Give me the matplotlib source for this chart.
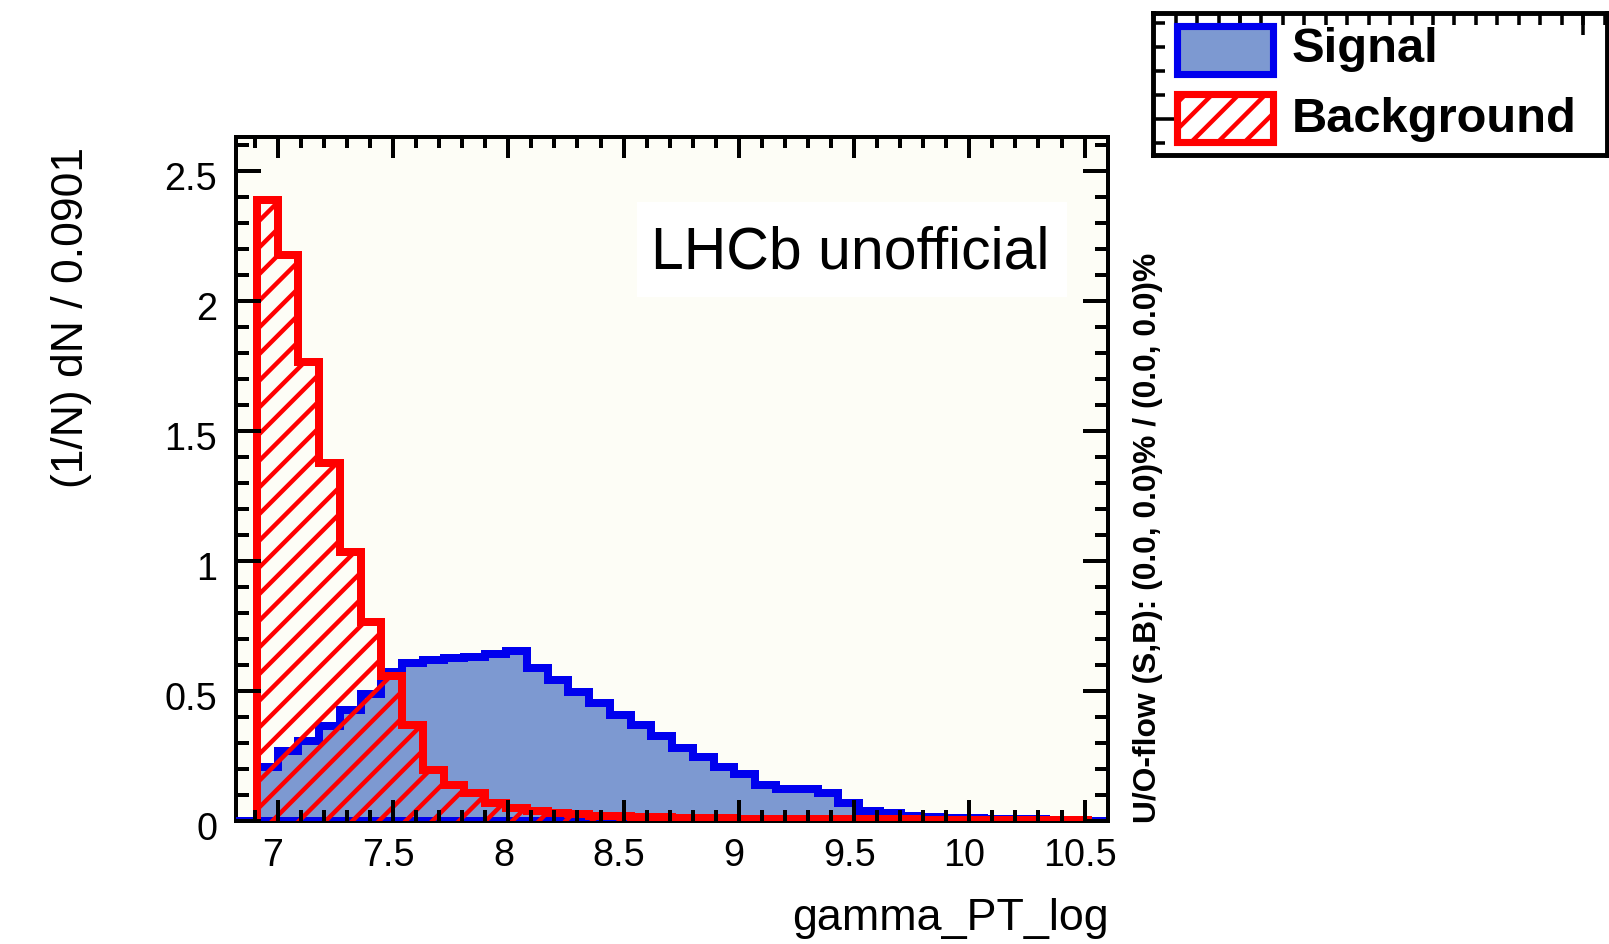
import numpy as np
import matplotlib
matplotlib.use('Agg')
import matplotlib.pyplot as plt
from matplotlib.patches import Rectangle
from matplotlib.ticker import MultipleLocator, FuncFormatter
from matplotlib.transforms import ScaledTranslation

plt.rcParams['font.family'] = ['Liberation Sans', 'DejaVu Sans']
plt.rcParams['hatch.linewidth'] = 2.0

# binning of gamma_PT_log (40 bins of 0.0901)
x_lo = 6.9088
bin_w = 0.0901
n_bins = 40
edges = x_lo + bin_w * np.arange(n_bins + 1)

# normalised contents (1/N) dN / 0.0901
signal = [0.205, 0.268, 0.308, 0.364, 0.426, 0.486, 0.572, 0.605, 0.618, 0.625,
          0.631, 0.641, 0.652, 0.586, 0.541, 0.496, 0.451, 0.406, 0.367, 0.324,
          0.278, 0.244, 0.208, 0.180, 0.137, 0.121, 0.121, 0.105, 0.067, 0.038,
          0.028, 0.018, 0.015, 0.012, 0.009, 0.007, 0.006, 0.005, 0.004, 0.003]
background = [2.387, 2.176, 1.765, 1.375, 1.035, 0.763, 0.558, 0.368, 0.194, 0.137,
              0.105, 0.067, 0.048, 0.036, 0.029, 0.024, 0.020, 0.017, 0.015, 0.013,
              0.011, 0.010, 0.009, 0.008, 0.008, 0.007, 0.007, 0.006, 0.006, 0.005,
              0.005, 0.005, 0.004, 0.004, 0.004, 0.003, 0.003, 0.003, 0.003, 0.002]

sig_fill = '#7d99d1'
sig_line = '#0000ee'
bkg_line = '#ff0000'
frame_col = '#fdfdf6'

DPI = 160
fig = plt.figure(figsize=(1609 / DPI, 944 / DPI), dpi=DPI)
fig.patch.set_facecolor('white')

ax = fig.add_axes([0.1467, 0.1306, 0.5421, 0.7246])
ax.set_facecolor(frame_col)

# signal: filled + outline
ax.stairs(signal, edges, fill=True, facecolor=sig_fill, linewidth=0, zorder=3)
ax.axhline(0, color=sig_line, lw=3.6, zorder=3)
ax.stairs(signal, edges, color=sig_line, lw=3.6, zorder=3)
# background: hatched + outline
ax.stairs(background, edges, fill=True, facecolor='none', edgecolor=bkg_line,
          hatch='//', linewidth=0, zorder=4)
ax.stairs(background, edges, color=bkg_line, lw=3.6, zorder=4)

ax.set_xlim(6.8187, 10.6029)
ax.set_ylim(0, 2.631)

fmt = FuncFormatter(lambda v, p: '%g' % v)
for axis in (ax.xaxis, ax.yaxis):
    axis.set_major_locator(MultipleLocator(0.5))
    axis.set_minor_locator(MultipleLocator(0.1))
    axis.set_major_formatter(fmt)
    axis.set_zorder(5)

ax.tick_params(which='both', direction='in', top=True, right=True, width=1.8,
               labelsize=17)
ax.tick_params(axis='x', which='major', length=9.5, pad=8)
ax.tick_params(axis='x', which='minor', length=5)
ax.tick_params(axis='y', which='major', length=11.3, pad=8.5)
ax.tick_params(axis='y', which='minor', length=5.9)
for sp in ax.spines.values():
    sp.set_linewidth(1.8)

ax.set_xlabel('gamma_PT_log', fontsize=20.2, loc='right')
ax.xaxis.set_label_coords(1.0, -0.113)
ax.set_ylabel('(1/N) dN / 0.0901', fontsize=20)
ax.yaxis.set_label_coords(-0.1654, 0.735)

# LHCb label on a white box
ax.add_patch(Rectangle((0.4594, 0.7661), 0.4933, 0.1389, transform=ax.transAxes,
                       facecolor='white', edgecolor='none', zorder=4))
ax.text(0.7038, 0.808, 'LHCb unofficial', transform=ax.transAxes, ha='center',
        va='baseline', fontsize=26.5, zorder=6)

fig.text(0.7135, 0.1282, 'U/O-flow (S,B): (0.0, 0.0)% / (0.0, 0.0)%',
         rotation=90, ha='center', va='bottom', fontsize=14.3, fontweight='bold')

# legend box (pixel-like coordinates inside)
lg = fig.add_axes([1153 / 1609, 1 - 155 / 944, 454 / 1609, 142 / 944])
lg.set_xlim(1153, 1607)
lg.set_ylim(155, 13)
lg.set_facecolor('white')
for sp in lg.spines.values():
    sp.set_linewidth(2.2)
lg.xaxis.tick_top()
lg.set_xticks([1240, 1583])
lg.set_xticks(np.arange(1175.7, 1607, 21.44), minor=True)
lg.set_yticks([119])
lg.set_yticks(np.arange(23, 155, 24), minor=True)
lg.tick_params(which='both', direction='in', width=1.6, labeltop=False,
               labelleft=False, labelbottom=False, bottom=False, right=False)
lg.tick_params(which='major', length=10)
lg.tick_params(which='minor', length=5.5)

lg.add_patch(Rectangle((1176.8, 25.5), 96.4, 48, facecolor=sig_fill,
                       edgecolor=sig_line, lw=3.2, zorder=3))
lg.add_patch(Rectangle((1176.8, 93.5), 96.4, 48, facecolor='white',
                       edgecolor=bkg_line, hatch='//', lw=3.2, zorder=3))
lg.text(1291.7, 61.7, 'Signal', fontsize=22, fontweight='bold', va='baseline', zorder=4)
lg.text(1291.7, 131.7, 'Background', fontsize=22, fontweight='bold', va='baseline', zorder=4)

# ROOT puts the tick labels a few pixels left / below the ticks
fig.canvas.draw()
for lab in ax.xaxis.get_majorticklabels():
    lab.set_transform(lab.get_transform() + ScaledTranslation(-2.2 / 72, 0, fig.dpi_scale_trans))
for lab in ax.yaxis.get_majorticklabels():
    lab.set_transform(lab.get_transform() + ScaledTranslation(0, -2.4 / 72, fig.dpi_scale_trans))

fig.savefig('out.png', dpi=DPI)
